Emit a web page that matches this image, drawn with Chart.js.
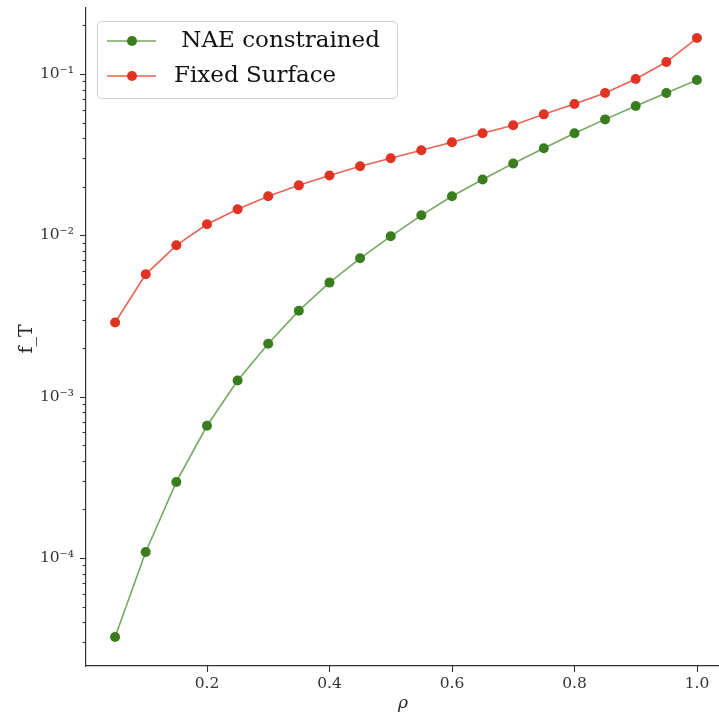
<!DOCTYPE html>
<html>
<head>
<meta charset="utf-8">
<script src="https://cdn.jsdelivr.net/npm/chart.js@4.4.1/dist/chart.umd.min.js"></script>
<style>
  html, body { margin: 0; padding: 0; background: #fff; overflow: hidden; }
  #wrap { width: 719px; height: 715px; }
</style>
</head>
<body>
<div id="wrap"><canvas id="c" width="719" height="715"></canvas></div>
<script>
// radial coordinate samples
const rho = [0.05, 0.10, 0.15, 0.20, 0.25, 0.30, 0.35, 0.40, 0.45, 0.50,
             0.55, 0.60, 0.65, 0.70, 0.75, 0.80, 0.85, 0.90, 0.95, 1.00];

// trapped fraction, NAE-constrained boundary
const naeConstrained = [3.24e-5, 1.09e-4, 2.96e-4, 6.6e-4, 1.26e-3, 2.13e-3, 3.41e-3, 5.09e-3, 7.2e-3, 9.86e-3,
                        0.0133, 0.01746, 0.0222, 0.0279, 0.0346, 0.0429, 0.0523, 0.0633, 0.0763, 0.0918];

// trapped fraction, fixed boundary surface
const fixedSurface = [2.88e-3, 5.73e-3, 8.67e-3, 0.0117, 0.0145, 0.01746, 0.0204, 0.0235, 0.0268, 0.0300,
                      0.0337, 0.0377, 0.0429, 0.0481, 0.0562, 0.0651, 0.0763, 0.0931, 0.1186, 0.167];

const xTicks = [0.2, 0.4, 0.6, 0.8, 1.0];
const yDecades = [-4, -3, -2, -1];
const seriesNames = [' NAE constrained', 'Fixed Surface'];

const SERIF = '"DejaVu Serif", serif';
const AXIS = '#333333';
const GREEN = '#3a7d1e';
const GREEN_LINE = 'rgba(70,140,45,0.75)';
const RED = '#e03322';
const RED_LINE = 'rgba(226,60,40,0.8)';

const supDigits = {'-': '\u207B', '0': '\u2070', '1': '\u00B9', '2': '\u00B2', '3': '\u00B3',
                   '4': '\u2074', '5': '\u2075', '6': '\u2076', '7': '\u2077', '8': '\u2078', '9': '\u2079'};
function sup(n) { return String(n).split('').map(c => supDigits[c]).join(''); }

function pts(ys) { return rho.map((x, i) => ({ x: x, y: ys[i] })); }

// tick marks: long for majors, short for minors
const tickMarks = {
  id: 'tickMarks',
  afterDraw(chart) {
    const ctx = chart.ctx;
    const xs = chart.scales.x, ys = chart.scales.y;
    ctx.save();
    ctx.strokeStyle = AXIS;
    ctx.lineWidth = 1.1;
    xs.ticks.forEach(t => {
      const px = Math.round(xs.getPixelForValue(t.value)) + 0.5;
      ctx.beginPath();
      ctx.moveTo(px, xs.top);
      ctx.lineTo(px, xs.top + 6);
      ctx.stroke();
    });
    ys.ticks.forEach(t => {
      const py = Math.round(ys.getPixelForValue(t.value)) + 0.5;
      const len = t.major ? 6 : 3.5;
      ctx.beginPath();
      ctx.moveTo(ys.right, py);
      ctx.lineTo(ys.right - len, py);
      ctx.stroke();
    });
    ctx.restore();
  }
};

// axis titles
const axisTitles = {
  id: 'axisTitles',
  afterDraw(chart) {
    const ctx = chart.ctx;
    ctx.save();
    ctx.fillStyle = '#222';
    ctx.textAlign = 'center';
    ctx.textBaseline = 'middle';
    ctx.font = 'italic 17px ' + SERIF;
    ctx.fillText('\u03C1', 403, 704);
    ctx.translate(27, 339);
    ctx.rotate(-Math.PI / 2);
    ctx.font = '19px ' + SERIF;
    ctx.fillText('f_T', 0, 0);
    ctx.restore();
  }
};

// legend box in the upper left corner of the plot
const insetLegend = {
  id: 'insetLegend',
  afterDatasetsDraw(chart) {
    const ctx = chart.ctx;
    const x0 = 97.5, y0 = 21.5, w = 300, h = 77, r = 4;
    ctx.save();
    ctx.beginPath();
    ctx.moveTo(x0 + r, y0);
    ctx.arcTo(x0 + w, y0, x0 + w, y0 + h, r);
    ctx.arcTo(x0 + w, y0 + h, x0, y0 + h, r);
    ctx.arcTo(x0, y0 + h, x0, y0, r);
    ctx.arcTo(x0, y0, x0 + w, y0, r);
    ctx.closePath();
    ctx.fillStyle = 'rgba(255,255,255,0.85)';
    ctx.fill();
    ctx.strokeStyle = '#d0d0d0';
    ctx.lineWidth = 1;
    ctx.stroke();

    chart.data.datasets.forEach((ds, i) => {
      const yy = 41 + i * 35;
      ctx.strokeStyle = ds.borderColor;
      ctx.lineWidth = 1.6;
      ctx.beginPath();
      ctx.moveTo(107, yy);
      ctx.lineTo(156, yy);
      ctx.stroke();
      ctx.fillStyle = ds.pointBackgroundColor;
      ctx.beginPath();
      ctx.arc(132, yy, 5, 0, Math.PI * 2);
      ctx.fill();
      ctx.fillStyle = '#111';
      ctx.font = '23px ' + SERIF;
      ctx.textAlign = 'left';
      ctx.textBaseline = 'middle';
      ctx.fillText(seriesNames[i], 174, yy);
    });
    ctx.restore();
  }
};

new Chart(document.getElementById('c'), {
  type: 'scatter',
  data: {
    datasets: [
      {
        label: seriesNames[0],
        data: pts(naeConstrained),
        showLine: true,
        borderColor: GREEN_LINE,
        borderWidth: 1.6,
        pointBackgroundColor: GREEN,
        pointBorderColor: GREEN,
        pointBorderWidth: 0,
        pointRadius: 5,
        tension: 0
      },
      {
        label: seriesNames[1],
        data: pts(fixedSurface),
        showLine: true,
        borderColor: RED_LINE,
        borderWidth: 1.6,
        pointBackgroundColor: RED,
        pointBorderColor: RED,
        pointBorderWidth: 0,
        pointRadius: 5,
        tension: 0
      }
    ]
  },
  options: {
    responsive: false,
    animation: false,
    events: [],
    layout: { autoPadding: false, padding: { top: 8, left: 0, right: 0, bottom: 0 } },
    plugins: { legend: { display: false }, tooltip: { enabled: false } },
    scales: {
      x: {
        type: 'linear',
        min: 0.0025,
        max: 1.036,
        afterBuildTicks(scale) { scale.ticks = xTicks.map(v => ({ value: v })); },
        afterFit(scale) { scale.height = 49; scale.paddingLeft = 0; scale.paddingRight = 0; },
        ticks: {
          callback: v => v.toFixed(1),
          font: { family: SERIF, size: 15.5 },
          color: '#333',
          padding: 3,
          maxRotation: 0,
          autoSkip: false
        },
        grid: { display: true, drawOnChartArea: false, drawTicks: true, tickLength: 6, tickColor: 'rgba(0,0,0,0)' },
        border: { display: true, color: AXIS, width: 1.2 }
      },
      y: {
        type: 'logarithmic',
        min: 2.14e-5,
        max: 0.2564,
        afterBuildTicks(scale) {
          const t = [];
          for (let k = -5; k <= 0; k++) {
            for (let m = 1; m <= 9; m++) {
              const v = m * Math.pow(10, k);
              if (v >= scale.min && v <= scale.max) t.push({ value: v, major: m === 1 });
            }
          }
          scale.ticks = t;
        },
        afterFit(scale) { scale.width = 86; scale.paddingTop = 0; scale.paddingBottom = 0; },
        ticks: {
          callback: function (v) {
            const e = Math.round(Math.log10(v));
            if (Math.abs(v / Math.pow(10, e) - 1) < 1e-6 && yDecades.includes(e)) return '10' + sup(e);
            return '';
          },
          font: { family: SERIF, size: 15.5 },
          color: '#333',
          padding: 6,
          autoSkip: false
        },
        grid: { display: true, drawOnChartArea: false, drawTicks: true, tickLength: 6, tickColor: 'rgba(0,0,0,0)' },
        border: { display: true, color: AXIS, width: 1.2 }
      }
    }
  },
  plugins: [tickMarks, axisTitles, insetLegend]
});
</script>
</body>
</html>
